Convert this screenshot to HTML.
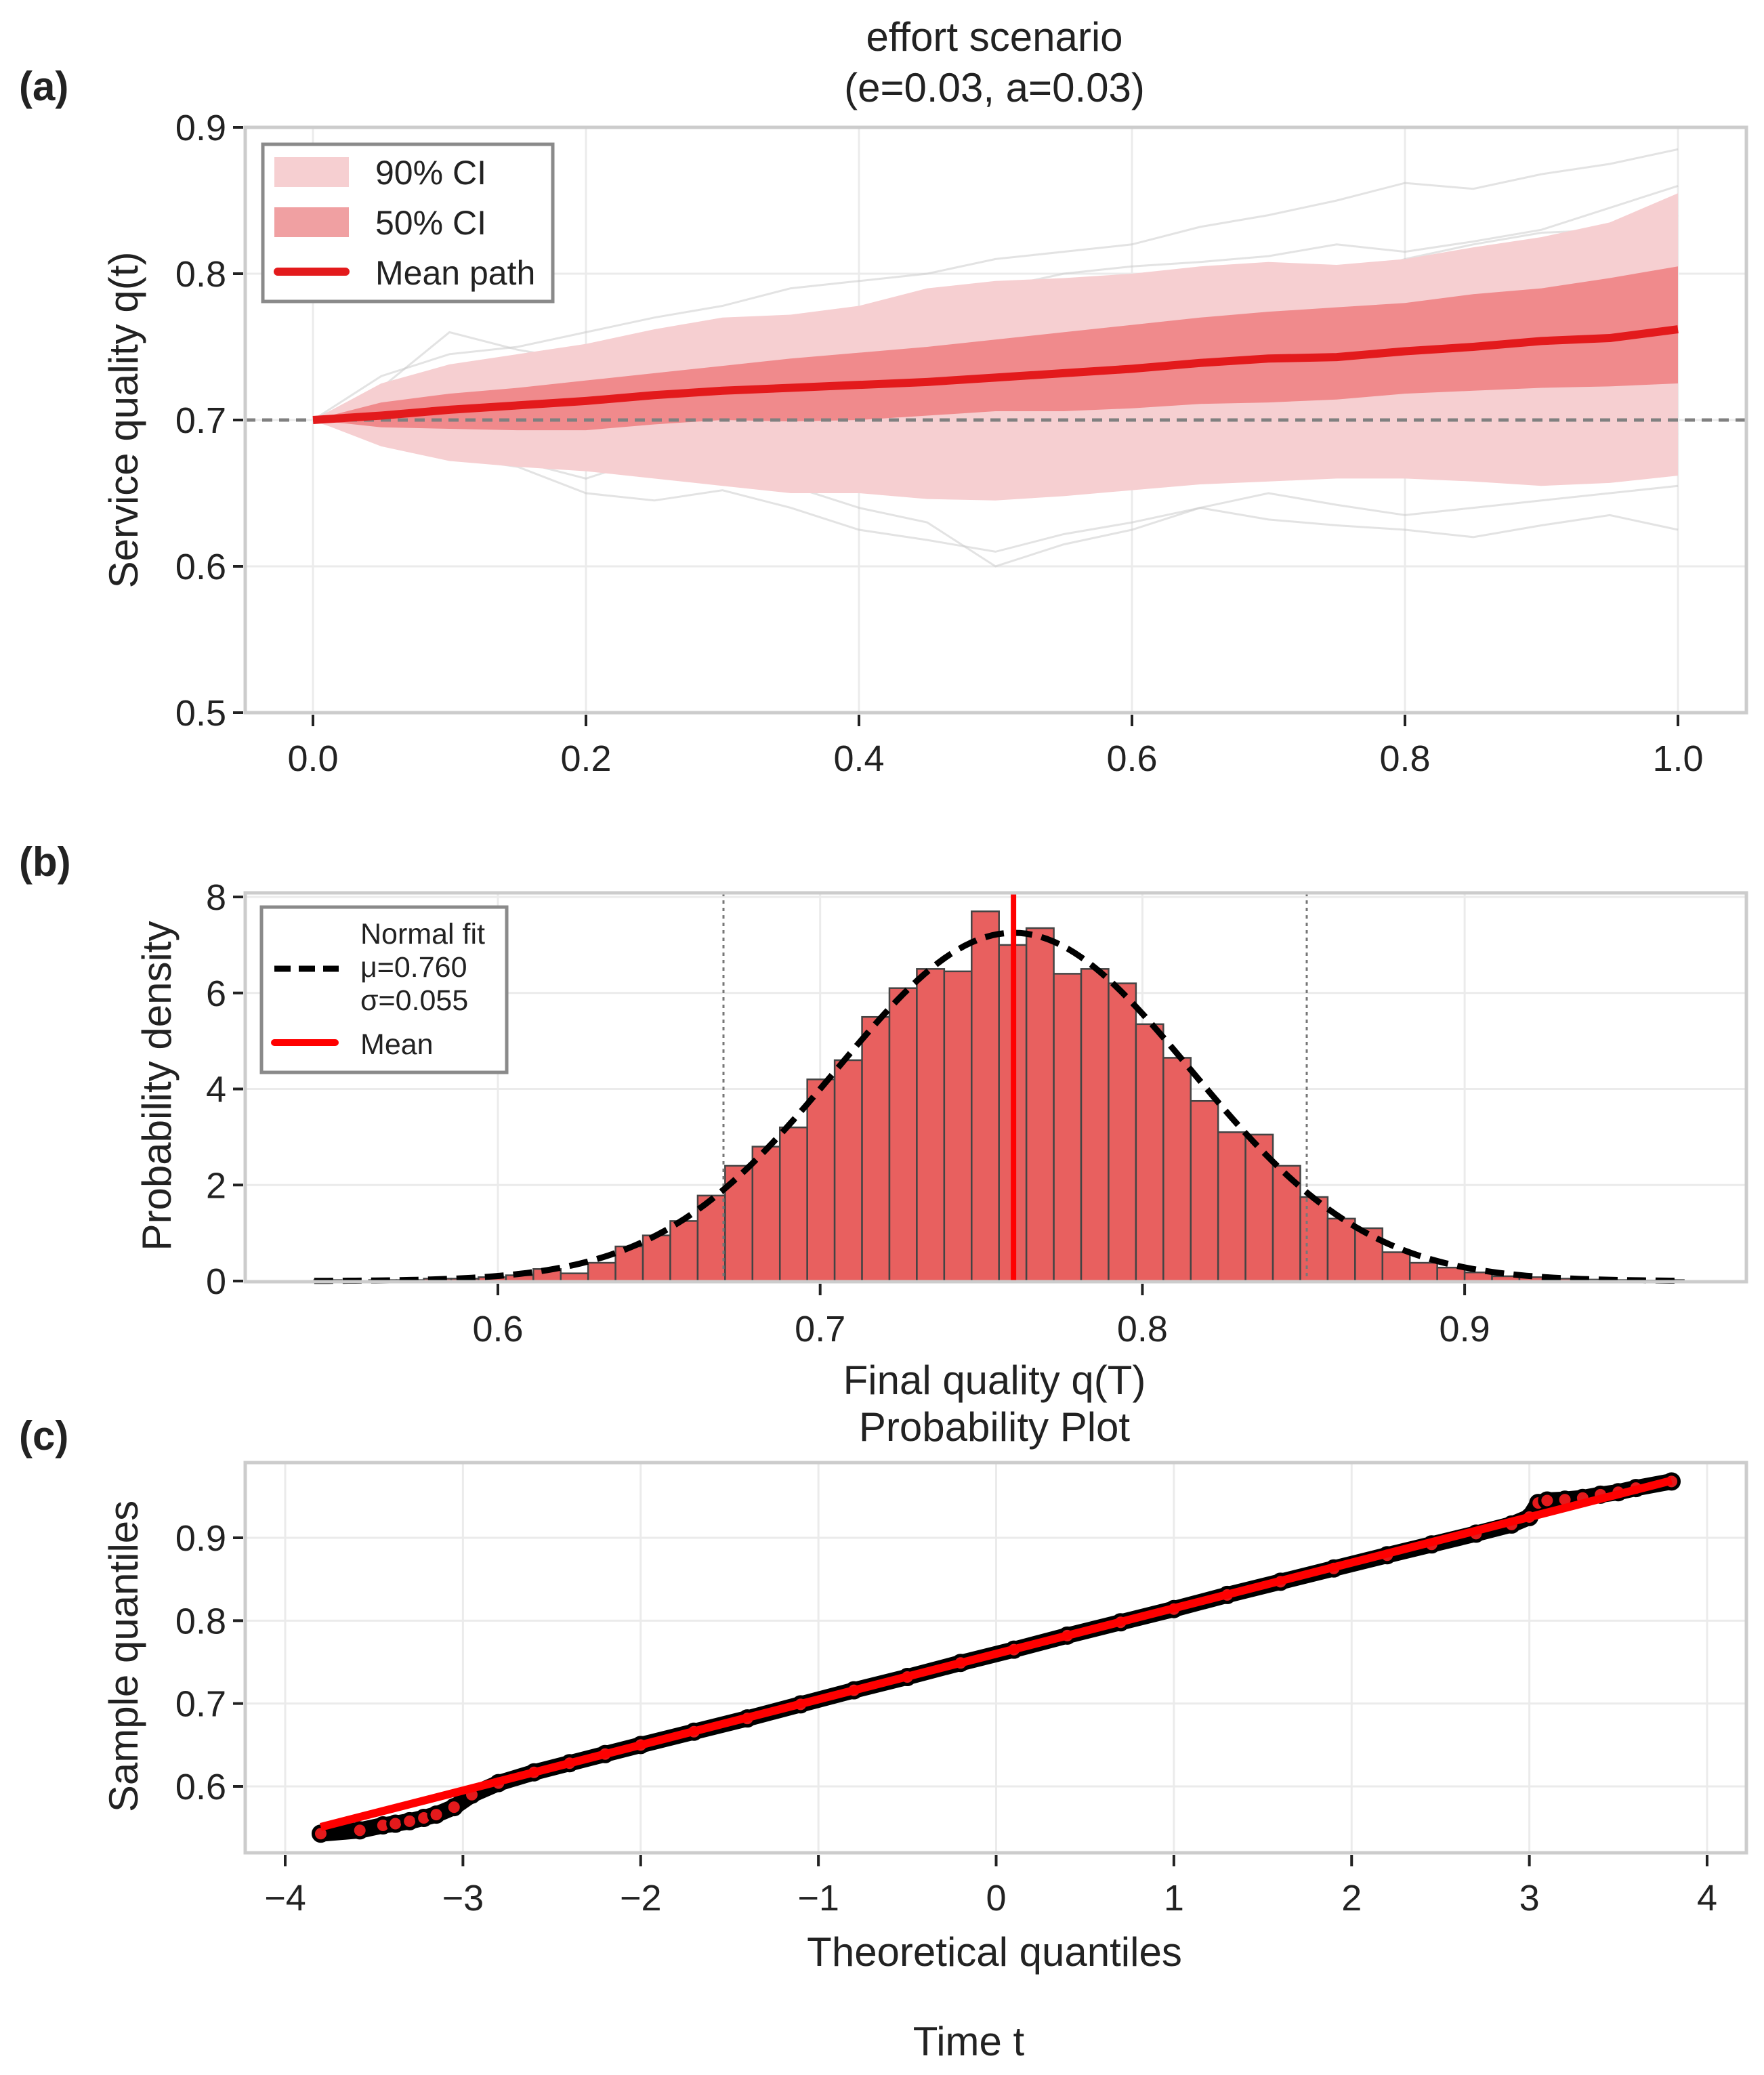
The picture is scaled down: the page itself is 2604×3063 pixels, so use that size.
<!DOCTYPE html>
<html><head><meta charset="utf-8">
<style>
html,body{margin:0;padding:0;background:#fff;}
svg{display:block;font-family:"Liberation Sans",Arial,sans-serif;}
</style></head>
<body>
<svg id="fig" width="2604" height="3063" viewBox="0 0 2604 3063" xmlns="http://www.w3.org/2000/svg">
<rect x="0" y="0" width="2604" height="3063" fill="#fff"/>
<g id="pa"></g>
<g id="pb"></g>
<g id="pc"></g>
</svg>
<script>
// ---------- Panel (a) data ----------
const aTime = [0,0.05,0.1,0.15,0.2,0.25,0.3,0.35,0.4,0.45,0.5,0.55,0.6,0.65,0.7,0.75,0.8,0.85,0.9,0.95,1.0];
const aMean = [0.700,0.703,0.707,0.710,0.713,0.717,0.720,0.722,0.724,0.726,0.729,0.732,0.735,0.739,0.742,0.743,0.747,0.750,0.754,0.756,0.762];
const a50Hi = [0.700,0.712,0.718,0.722,0.727,0.732,0.737,0.742,0.746,0.750,0.755,0.760,0.765,0.770,0.774,0.777,0.780,0.786,0.790,0.797,0.805];
const a50Lo = [0.700,0.695,0.694,0.693,0.693,0.697,0.700,0.699,0.700,0.703,0.706,0.706,0.708,0.711,0.712,0.714,0.718,0.720,0.722,0.723,0.725];
const a90Hi = [0.700,0.725,0.738,0.745,0.752,0.762,0.770,0.772,0.778,0.790,0.795,0.797,0.800,0.805,0.808,0.806,0.810,0.818,0.825,0.835,0.855];
const a90Lo = [0.700,0.682,0.672,0.668,0.665,0.660,0.655,0.650,0.650,0.646,0.645,0.648,0.652,0.656,0.658,0.660,0.660,0.658,0.655,0.657,0.662];
const aPath1 = [0.700,0.730,0.745,0.750,0.760,0.770,0.778,0.790,0.795,0.800,0.810,0.815,0.820,0.832,0.840,0.850,0.862,0.858,0.868,0.875,0.885];
const aPath2 = [0.700,0.690,0.675,0.668,0.650,0.645,0.652,0.640,0.625,0.618,0.610,0.622,0.630,0.640,0.632,0.628,0.625,0.620,0.628,0.635,0.625];
const aPath3 = [0.700,0.712,0.705,0.720,0.735,0.728,0.740,0.752,0.745,0.760,0.770,0.765,0.780,0.790,0.800,0.795,0.810,0.820,0.828,0.830,0.840];
const aPath4 = [0.700,0.685,0.692,0.678,0.670,0.662,0.668,0.655,0.640,0.630,0.600,0.615,0.625,0.640,0.650,0.642,0.635,0.640,0.645,0.650,0.655];
const aPath5 = [0.700,0.722,0.760,0.748,0.740,0.745,0.760,0.770,0.765,0.775,0.790,0.800,0.805,0.808,0.812,0.820,0.815,0.822,0.830,0.845,0.860];
const aPath6 = [0.700,0.690,0.680,0.672,0.660,0.675,0.690,0.685,0.680,0.690,0.695,0.705,0.700,0.690,0.695,0.700,0.710,0.700,0.705,0.695,0.690];
const aPaths = [aPath1,aPath2,aPath3,aPath4,aPath5,aPath6];
const aXTicks = [0,0.2,0.4,0.6,0.8,1.0];
const aXTickLabels = ["0.0","0.2","0.4","0.6","0.8","1.0"];
const aYTicks = [0.5,0.6,0.7,0.8,0.9];
const aYTickLabels = ["0.5","0.6","0.7","0.8","0.9"];

// ---------- Panel (b) data ----------
const bBinStart = 0.543;
const bBinWidth = 0.0085;
const bHeights = [0.02,0.0,0.02,0.02,0.05,0.05,0.08,0.12,0.25,0.16,0.38,0.72,0.95,1.25,1.78,2.4,2.8,3.2,4.2,4.6,5.5,6.1,6.5,6.45,7.7,7.0,7.35,6.4,6.5,6.2,5.35,4.65,3.75,3.1,3.05,2.4,1.75,1.3,1.1,0.6,0.38,0.28,0.18,0.1,0.08,0.05,0.03,0.02,0.01,0.02];
const bMu = 0.760;
const bSigma = 0.055;
const bCiLines = [0.670,0.851];
const bXTicks = [0.6,0.7,0.8,0.9];
const bXTickLabels = ["0.6","0.7","0.8","0.9"];
const bYTicks = [0,2,4,6,8];
const bYTickLabels = ["0","2","4","6","8"];

// ---------- Panel (c) data ----------
const cTheo = [-3.8,-3.58,-3.45,-3.38,-3.3,-3.22,-3.15,-3.05,-2.95,-2.8,-2.6,-2.4,-2.2,-2.0,-1.7,-1.4,-1.1,-0.8,-0.5,-0.2,0.1,0.4,0.7,1.0,1.3,1.6,1.9,2.2,2.45,2.7,2.9,3.0,3.05,3.1,3.2,3.3,3.4,3.5,3.6,3.8];
const cSample = [0.543,0.547,0.553,0.555,0.558,0.562,0.566,0.575,0.590,0.604,0.617,0.628,0.639,0.650,0.666,0.682,0.699,0.716,0.732,0.749,0.765,0.782,0.798,0.814,0.831,0.847,0.863,0.879,0.892,0.905,0.916,0.925,0.942,0.945,0.946,0.948,0.952,0.955,0.960,0.968];
const cFit = [0.760,0.055]; // intercept, slope
const cXTicks = [-4,-3,-2,-1,0,1,2,3,4];
const cXTickLabels = ["\u22124","\u22123","\u22122","\u22121","0","1","2","3","4"];
const cYTicks = [0.6,0.7,0.8,0.9];
const cYTickLabels = ["0.6","0.7","0.8","0.9"];

const NS="http://www.w3.org/2000/svg";
const TF=54, LF=60;
function mk(parent, tag, attrs, text){
  const e=document.createElementNS(NS,tag);
  for(const k in attrs) e.setAttribute(k,attrs[k]);
  if(text!==undefined) e.textContent=text;
  parent.appendChild(e);
  return e;
}
function frame(g,L,T,R,B){
  const f=mk(g,'rect',{x:L,y:T,width:R-L,height:B-T,fill:'none',stroke:'#cccccc','stroke-width':5});
  
  
}

// ===== Panel A =====
(function(){
  const g=document.getElementById('pa');
  const L=362,R=2578,T=188,B=1052;
  const X=v=>462+(v-0)*(2477-462);
  const Y=v=>1052-(v-0.5)/(0.4)*(1052-188);
  aXTicks.forEach(v=>{const l=mk(g,'line',{x1:X(v),x2:X(v),y1:T,y2:B,stroke:'#ebebeb','stroke-width':3});
    
    });
  aYTicks.forEach(v=>{const l=mk(g,'line',{x1:L,x2:R,y1:Y(v),y2:Y(v),stroke:'#ebebeb','stroke-width':3});
    
    });
  aPaths.forEach(p=>{const pl=mk(g,'polyline',{points:p.map((v,i)=>X(aTime[i])+','+Y(v)).join(' '),fill:'none',stroke:'#c8c8c8','stroke-opacity':0.5,'stroke-width':3});
    
    });
  function band(hi,lo,color,name){
    const pts=hi.map((v,i)=>X(aTime[i])+','+Y(v)).concat(lo.map((v,i)=>X(aTime[i])+','+Y(v)).reverse());
    const p=mk(g,'polygon',{points:pts.join(' '),fill:color});
    
    
  }
  band(a90Hi,a90Lo,'#f6cfd1','ci-90-band');
  band(a50Hi,a50Lo,'#f08a8c','ci-50-band');
  const base=mk(g,'line',{x1:L,x2:R,y1:Y(0.7),y2:Y(0.7),stroke:'#808080','stroke-width':5,'stroke-dasharray':'15 10'});
  
  
  const m=mk(g,'polyline',{points:aMean.map((v,i)=>X(aTime[i])+','+Y(v)).join(' '),fill:'none',stroke:'#e31a1c','stroke-width':12,'stroke-linejoin':'round'});
  
  
  frame(g,L,T,R,B);
  aXTicks.forEach((v,i)=>{
    const t=mk(g,'line',{x1:X(v),x2:X(v),y1:B+3,y2:B+20,stroke:'#222','stroke-width':4});
    
    
    const tl=mk(g,'text',{x:X(v),y:1138,'font-size':TF,'text-anchor':'middle',fill:'#222'},aXTickLabels[i]);
    
    
  });
  aYTicks.forEach((v,i)=>{
    const t=mk(g,'line',{x1:L-18,x2:L-3,y1:Y(v),y2:Y(v),stroke:'#222','stroke-width':4});
    
    
    const tl=mk(g,'text',{x:L-28,y:Y(v)+19,'font-size':TF,'text-anchor':'end',fill:'#222'},aYTickLabels[i]);
    
    
  });
  let e;
  e=mk(g,'text',{x:1468,y:75,'font-size':LF,'text-anchor':'middle',fill:'#222'},'effort scenario');
  
  
  e=mk(g,'text',{x:1468,y:150,'font-size':LF,'text-anchor':'middle',fill:'#222'},'(e=0.03, a=0.03)');
  
  
  e=mk(g,'text',{x:28,y:148,'font-size':LF,'font-weight':'bold',fill:'#222'},'(a)');
  
  
  e=mk(g,'text',{x:0,y:0,'font-size':LF,'text-anchor':'middle',fill:'#222',transform:'translate(203,620) rotate(-90)'},'Service quality q(t)');
  
  
  const lg=mk(g,'g',{});
  
  
  e=mk(lg,'rect',{x:388,y:213,width:428,height:232,fill:'#fff',stroke:'#8a8a8a','stroke-width':5});
  
  
  e=mk(lg,'rect',{x:405,y:232,width:110,height:44,fill:'#f6cfd1'});
  
  
  e=mk(lg,'rect',{x:405,y:306,width:110,height:44,fill:'#f0a0a2'});
  
  
  e=mk(lg,'line',{x1:410,x2:510,y1:401,y2:401,stroke:'#e31a1c','stroke-width':12,'stroke-linecap':'round'});
  
  
  [['90% CI',272],['50% CI',346],['Mean path',420]].forEach(d=>{
    const t=mk(lg,'text',{x:554,y:d[1],'font-size':50,fill:'#222'},d[0]);
    
    
  });
})();

// ===== Panel B =====
(function(){
  const g=document.getElementById('pb');
  const L=362,R=2578,T=1318,B=1892;
  const X=v=>735+(v-0.6)*4757;
  const Y=v=>1891-v*(1891-1324)/8;
  bXTicks.forEach(v=>{const l=mk(g,'line',{x1:X(v),x2:X(v),y1:T,y2:B,stroke:'#ebebeb','stroke-width':3});
    
    });
  bYTicks.forEach(v=>{const l=mk(g,'line',{x1:L,x2:R,y1:Y(v),y2:Y(v),stroke:'#ebebeb','stroke-width':3});
    
    });
  bHeights.forEach((h,i)=>{
    const x0=X(bBinStart+i*bBinWidth), x1=X(bBinStart+(i+1)*bBinWidth);
    const r=mk(g,'rect',{x:x0,y:Y(h),width:x1-x0,height:Y(0)-Y(h),fill:'#e8605f',stroke:'#444','stroke-width':2.5});
    
    
  });
  bCiLines.forEach(v=>{const l=mk(g,'line',{x1:X(v),x2:X(v),y1:T,y2:B,stroke:'#777','stroke-width':3,'stroke-dasharray':'5 6'});
    
    });
  const pts=[];
  const xs=bBinStart, xe=bBinStart+bHeights.length*bBinWidth;
  for(let k=0;k<=200;k++){const x=xs+(xe-xs)*k/200;const y=Math.exp(-0.5*((x-bMu)/bSigma)**2)/(bSigma*Math.sqrt(2*Math.PI));pts.push(X(x)+','+Y(y));}
  let e=mk(g,'polyline',{points:pts.join(' '),fill:'none',stroke:'#000','stroke-width':9,'stroke-dasharray':'28 14'});
  
  
  e=mk(g,'line',{x1:X(bMu),x2:X(bMu),y1:T,y2:B,stroke:'#ff0000','stroke-width':8});
  
  
  frame(g,L,T,R,B);
  bXTicks.forEach((v,i)=>{
    const t=mk(g,'line',{x1:X(v),x2:X(v),y1:B+3,y2:B+20,stroke:'#222','stroke-width':4});
    
    
    const tl=mk(g,'text',{x:X(v),y:1980,'font-size':TF,'text-anchor':'middle',fill:'#222'},bXTickLabels[i]);
    
    
  });
  bYTicks.forEach((v,i)=>{
    const t=mk(g,'line',{x1:L-18,x2:L-3,y1:Y(v),y2:Y(v),stroke:'#222','stroke-width':4});
    
    
    const tl=mk(g,'text',{x:L-28,y:Y(v)+19,'font-size':TF,'text-anchor':'end',fill:'#222'},bYTickLabels[i]);
    
    
  });
  e=mk(g,'text',{x:1468,y:2058,'font-size':LF,'text-anchor':'middle',fill:'#222'},'Final quality q(T)');
  
  
  e=mk(g,'text',{x:28,y:1293,'font-size':LF,'font-weight':'bold',fill:'#222'},'(b)');
  
  
  e=mk(g,'text',{x:0,y:0,'font-size':LF,'text-anchor':'middle',fill:'#222',transform:'translate(252,1603) rotate(-90)'},'Probability density');
  
  
  const lg=mk(g,'g',{});
  
  
  e=mk(lg,'rect',{x:386,y:1339,width:362,height:244,fill:'#fff',stroke:'#8a8a8a','stroke-width':5});
  
  
  e=mk(lg,'line',{x1:405,x2:500,y1:1430,y2:1430,stroke:'#000','stroke-width':9,'stroke-dasharray':'24 12'});
  
  
  e=mk(lg,'line',{x1:405,x2:495,y1:1539,y2:1539,stroke:'#ff0000','stroke-width':10,'stroke-linecap':'round'});
  
  
  [['Normal fit',1393],['\u03bc=0.760',1442],['\u03c3=0.055',1491],['Mean',1556]].forEach(d=>{
    const t=mk(lg,'text',{x:532,y:d[1],'font-size':43,fill:'#222'},d[0]);
    
    
  });
})();

// ===== Panel C =====
(function(){
  const g=document.getElementById('pc');
  const L=362,R=2578,T=2159,B=2735;
  const X=v=>421+(v+4)*(2520-421)/8;
  const Y=v=>2637-(v-0.6)*(2637-2270)/0.3;
  cXTicks.forEach(v=>{const l=mk(g,'line',{x1:X(v),x2:X(v),y1:T,y2:B,stroke:'#ebebeb','stroke-width':3});
    
    });
  cYTicks.forEach(v=>{const l=mk(g,'line',{x1:L,x2:R,y1:Y(v),y2:Y(v),stroke:'#ebebeb','stroke-width':3});
    
    });
  let e=mk(g,'polyline',{points:cTheo.map((v,i)=>X(v)+','+Y(cSample[i])).join(' '),fill:'none',stroke:'#000','stroke-width':24,'stroke-linejoin':'round'});
  
  
  cTheo.forEach((v,i)=>{
    const c=mk(g,'circle',{cx:X(v),cy:Y(cSample[i]),r:11,fill:'#e31a1c',stroke:'#000','stroke-width':5});
    
    
  });
  const x0=cTheo[0], x1=cTheo[cTheo.length-1];
  e=mk(g,'line',{x1:X(x0),y1:Y(cFit[0]+cFit[1]*x0),x2:X(x1),y2:Y(cFit[0]+cFit[1]*x1),stroke:'#ff0000','stroke-width':12});
  
  
  frame(g,L,T,R,B);
  cXTicks.forEach((v,i)=>{
    const t=mk(g,'line',{x1:X(v),x2:X(v),y1:B+3,y2:B+20,stroke:'#222','stroke-width':4});
    
    
    const tl=mk(g,'text',{x:X(v),y:2820,'font-size':TF,'text-anchor':'middle',fill:'#222'},cXTickLabels[i]);
    
    
  });
  cYTicks.forEach((v,i)=>{
    const t=mk(g,'line',{x1:L-18,x2:L-3,y1:Y(v),y2:Y(v),stroke:'#222','stroke-width':4});
    
    
    const tl=mk(g,'text',{x:L-28,y:Y(v)+19,'font-size':TF,'text-anchor':'end',fill:'#222'},cYTickLabels[i]);
    
    
  });
  e=mk(g,'text',{x:1468,y:2127,'font-size':LF,'text-anchor':'middle',fill:'#222'},'Probability Plot');
  
  
  e=mk(g,'text',{x:1468,y:2902,'font-size':LF,'text-anchor':'middle',fill:'#222'},'Theoretical quantiles');
  
  
  e=mk(g,'text',{x:1430,y:3034,'font-size':LF,'text-anchor':'middle',fill:'#222'},'Time t');
  
  
  e=mk(g,'text',{x:28,y:2140,'font-size':LF,'font-weight':'bold',fill:'#222'},'(c)');
  
  
  e=mk(g,'text',{x:0,y:0,'font-size':LF,'text-anchor':'middle',fill:'#222',transform:'translate(203,2445) rotate(-90)'},'Sample quantiles');
  
  
})();
</script>
</body></html>
